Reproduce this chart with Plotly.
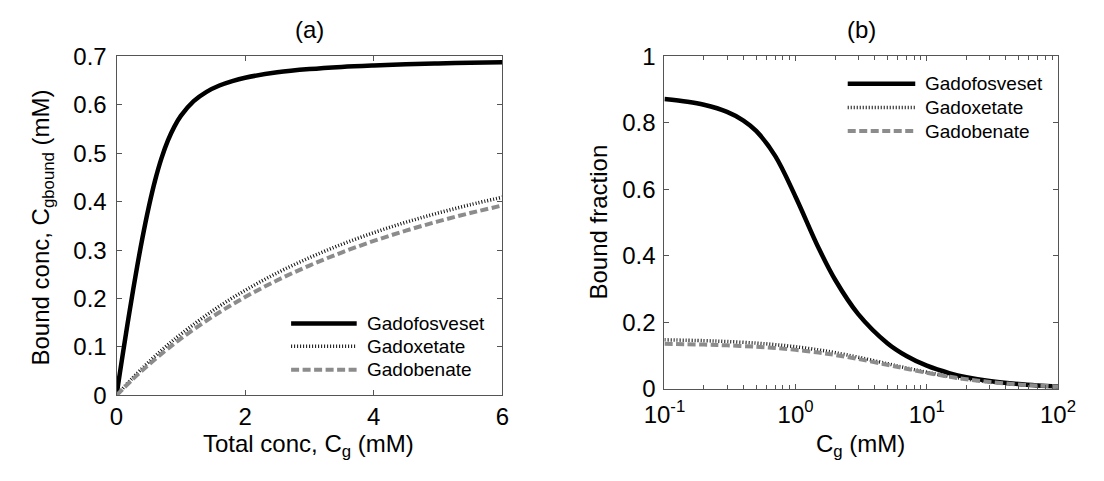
import plotly.graph_objects as go

# ---- data -------------------------------------------------------------
agents = ["Gadofosveset", "Gadoxetate", "Gadobenate"]

# (a) bound concentration vs total concentration (mM)
total_fos = [0, 0.05, 0.1, 0.15, 0.2, 0.3, 0.4, 0.5, 0.6, 0.7, 0.8, 0.9, 1.0,
             1.2, 1.4, 1.6, 1.8, 2.0, 2.5, 3.0, 3.5, 4.0, 4.5, 5.0, 5.5, 6.0]
bound_fos = [0, 0.0440, 0.0872, 0.1296, 0.1709, 0.2500, 0.3229, 0.3880, 0.4440,
             0.4900, 0.5266, 0.5551, 0.5772, 0.6077, 0.6270, 0.6400, 0.6492,
             0.6561, 0.6672, 0.6739, 0.6784, 0.6815, 0.6839, 0.6857, 0.6872, 0.6883]

total_low = [0, 0.25, 0.5, 0.75, 1.0, 1.5, 2.0, 2.5, 3.0, 3.5, 4.0, 4.5, 5.0, 5.5, 6.0]
bound_xet = [0, 0.0358, 0.0686, 0.0987, 0.1263, 0.1752, 0.2170, 0.2530, 0.2843,
             0.3118, 0.3360, 0.3575, 0.3766, 0.3938, 0.4093]
bound_ben = [0, 0.0329, 0.0632, 0.0912, 0.1170, 0.1631, 0.2030, 0.2377, 0.2681,
             0.2950, 0.3189, 0.3402, 0.3593, 0.3766, 0.3922]

# (b) bound fraction vs concentration (mM, log scale)
conc_fos = [0.1, 0.15, 0.2, 0.3, 0.4, 0.5, 0.7, 1.0, 1.5, 2.0, 3.0, 5.0, 7.0,
            10, 15, 20, 30, 50, 70, 100]
frac_fos = [0.872, 0.8637, 0.8546, 0.8333, 0.8072, 0.776, 0.700, 0.5772, 0.4227,
            0.3280, 0.2246, 0.1371, 0.0986, 0.0693, 0.0464, 0.0348, 0.0233,
            0.0140, 0.0100, 0.0070]

conc_low = [0.1, 0.2, 0.3, 0.5, 0.7, 1.0, 1.5, 2.0, 3.0, 5.0, 7.0, 10, 15, 20,
            30, 50, 70, 100]
frac_xet = [0.1472, 0.1446, 0.1421, 0.1372, 0.1327, 0.1263, 0.1168, 0.1085,
            0.0948, 0.0753, 0.0623, 0.0494, 0.0366, 0.0291, 0.0206, 0.0130,
            0.0095, 0.0067]
frac_ben = [0.1350, 0.1327, 0.1306, 0.1264, 0.1225, 0.1170, 0.1088, 0.1015,
            0.0894, 0.0719, 0.0599, 0.0479, 0.0358, 0.0285, 0.0203, 0.0129,
            0.0094, 0.0067]

log_ticks = [0.1, 1, 10, 100]
log_tick_text = ["10<sup>-1</sup>", "10<sup>0</sup>", "10<sup>1</sup>", "10<sup>2</sup>"]

# ---- styles -----------------------------------------------------------
FONT = "Liberation Sans, Arial, Helvetica, sans-serif"
FS = 24
W, H = 1104, 481
line_styles = {
    "Gadofosveset": dict(color="#000000", width=4.5, dash="solid"),
    "Gadoxetate": dict(color="#111111", width=3.5, dash="1px,2px"),
    "Gadobenate": dict(color="#8c8c8c", width=4, dash="8px,3.5px"),
}


def px(x):
    return x / W


def py(y):
    return 1 - y / H


fig = go.Figure()

panel_a = [(total_fos, bound_fos), (total_low, bound_xet), (total_low, bound_ben)]
panel_b = [(conc_fos, frac_fos), (conc_low, frac_xet), (conc_low, frac_ben)]

for name, (xs, ys) in zip(agents, panel_a):
    fig.add_trace(go.Scatter(x=xs, y=ys, mode="lines", name=name,
                             line=dict(shape="spline", **line_styles[name]),
                             xaxis="x", yaxis="y", showlegend=False))
for name, (xs, ys) in zip(agents, panel_b):
    fig.add_trace(go.Scatter(x=xs, y=ys, mode="lines", name=name,
                             line=dict(shape="spline", **line_styles[name]),
                             xaxis="x2", yaxis="y2", showlegend=False))

axis_common = dict(showline=True, linecolor="#555555", linewidth=1, mirror="ticks",
                   ticks="inside", ticklen=5, tickcolor="#555555", showgrid=False,
                   zeroline=False, tickfont=dict(family=FONT, size=FS, color="#000"))

fig.update_layout(
    width=W, height=H, margin=dict(l=0, r=0, t=0, b=0),
    paper_bgcolor="white", plot_bgcolor="white",
    font=dict(family=FONT, size=FS, color="#000"),
    xaxis=dict(domain=[px(99), px(499)], range=[0, 6], tickvals=[0, 2, 4, 6],
               anchor="y", ticklabelstandoff=0, **axis_common),
    yaxis=dict(domain=[py(404), py(45)], range=[0, 0.7], dtick=0.1, tick0=0,
               anchor="x", ticklabelstandoff=4, **axis_common),
    xaxis2=dict(domain=[px(667), px(1075)], type="log", range=[-1, 2],
                tickvals=log_ticks, ticktext=log_tick_text, anchor="y2",
                ticklabelstandoff=4,
                minor=dict(ticks="inside", ticklen=3.5, tickcolor="#555555",
                           dtick="D1", showgrid=False),
                **axis_common),
    yaxis2=dict(domain=[py(397), py(45)], range=[0, 1], dtick=0.2, tick0=0,
                anchor="x2", ticklabelstandoff=3, **axis_common),
)

# ---- titles and axis labels --------------------------------------------
labels = [
    dict(text="(a)", x=px(299), y=py(16), xanchor="center", yanchor="middle"),
    dict(text="(b)", x=px(871), y=py(16), xanchor="center", yanchor="middle"),
    dict(text="Total conc, C<sub>g</sub> (mM)", x=px(298), y=py(439),
         xanchor="center", yanchor="top"),
    dict(text="C<sub>g</sub> (mM)", x=px(870), y=py(439),
         xanchor="center", yanchor="top"),
    dict(text="Bound conc, C<sub>gbound</sub> (mM)", x=px(22), y=py(226),
         xanchor="center", yanchor="middle", textangle=-90),
    dict(text="Bound fraction", x=px(599), y=py(220),
         xanchor="center", yanchor="middle", textangle=-90),
]
for lab in labels:
    fig.add_annotation(xref="paper", yref="paper", showarrow=False,
                       font=dict(family=FONT, size=FS, color="#000"), **lab)

# ---- legends (one per panel, drawn as sample lines plus labels) ---------
legend_layout = [
    dict(x0=280, x1=348, text_x=357, rows=[328, 352, 377]),
    dict(x0=857, x1=927, text_x=935, rows=[74, 99, 124]),
]
for leg in legend_layout:
    for name, row in zip(agents, leg["rows"]):
        st = line_styles[name]
        fig.add_shape(type="line", xref="paper", yref="paper",
                      x0=px(leg["x0"]), x1=px(leg["x1"]), y0=py(row), y1=py(row),
                      line=dict(color=st["color"], width=st["width"], dash=st["dash"]))
        fig.add_annotation(xref="paper", yref="paper", showarrow=False,
                           x=px(leg["text_x"]), y=py(row), xanchor="left",
                           yanchor="middle", text=name,
                           font=dict(family=FONT, size=19, color="#000"))

fig.write_html("out.html")
